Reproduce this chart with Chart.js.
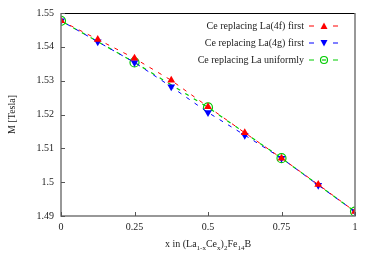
<!DOCTYPE html>
<html>
<head>
<meta charset="utf-8">
<script src="https://cdn.jsdelivr.net/npm/chart.js@4/dist/chart.umd.min.js"></script>
<style>
  html, body { margin: 0; padding: 0; background: #fff; }
  #wrap { width: 375px; height: 263px; }
</style>
</head>
<body>
<div id="wrap"><canvas id="chartM" width="375" height="263"></canvas></div>
<script>
const xFine = [0, 0.125, 0.25, 0.375, 0.5, 0.625, 0.75, 0.875, 1];
const m4f = [1.5477, 1.5422, 1.5366, 1.5301, 1.5223, 1.5146, 1.5071, 1.4993, 1.4913];
const m4g = [1.5477, 1.5415, 1.5354, 1.5282, 1.5206, 1.5139, 1.5071, 1.4991, 1.4913];
const xUni = [0, 0.25, 0.5, 0.75, 1];
const mUni = [1.5477, 1.5354, 1.5221, 1.5071, 1.4913];
const xTicks = [0, 0.25, 0.5, 0.75, 1];
const yTicks = [1.49, 1.5, 1.51, 1.52, 1.53, 1.54, 1.55];
const labels = ['Ce replacing La(4f) first', 'Ce replacing La(4g) first', 'Ce replacing La uniformly'];

const FONT = '"Liberation Serif", "DejaVu Serif", serif';

function pts(xs, ys) {
  return xs.map((x, i) => ({ x: x, y: ys[i] }));
}

const frameAndTicks = {
  id: 'frameAndTicks',
  afterDraw(chart) {
    const c = chart.ctx, a = chart.chartArea;
    const sx = chart.scales.x, sy = chart.scales.y;
    c.save();
    // frame
    c.lineWidth = 1;
    c.strokeStyle = '#000';
    c.beginPath();
    c.moveTo(a.left, a.top + 0.5); c.lineTo(a.right, a.top + 0.5);
    c.stroke();
    c.strokeStyle = '#777';
    c.lineWidth = 1.5;
    c.beginPath();
    c.moveTo(a.left, a.top); c.lineTo(a.left, a.bottom); c.lineTo(a.right, a.bottom); c.lineTo(a.right, a.top);
    c.stroke();
    // inward ticks on bottom and left only
    c.lineWidth = 1;
    c.strokeStyle = '#555';
    c.beginPath();
    xTicks.forEach(v => {
      const px = Math.round(sx.getPixelForValue(v)) + 0.5;
      c.moveTo(px, a.bottom); c.lineTo(px, a.bottom - 4);
    });
    yTicks.forEach(v => {
      const py = Math.round(sy.getPixelForValue(v)) + 0.5;
      c.moveTo(a.left, py); c.lineTo(a.left + 4, py);
    });
    c.stroke();

    // x title with subscripts
    c.fillStyle = '#222';
    const parts = [['x in (La', 0], ['1-x', 1], ['Ce', 0], ['x', 1], [')', 0], ['2', 1], ['Fe', 0], ['14', 1], ['B', 0]];
    let w = 0;
    parts.forEach(p => { c.font = (p[1] ? '7px ' : '10px ') + FONT; w += c.measureText(p[0]).width; });
    let x0 = (a.left + a.right) / 2 - w / 2;
    const yb = 247;
    c.textBaseline = 'alphabetic';
    c.textAlign = 'left';
    parts.forEach(p => {
      c.font = (p[1] ? '7px ' : '10px ') + FONT;
      c.fillText(p[0], x0, p[1] ? yb + 3 : yb);
      x0 += c.measureText(p[0]).width;
    });

    // y title
    c.save();
    c.translate(12, (a.top + a.bottom) / 2);
    c.rotate(-Math.PI / 2);
    c.font = '10px ' + FONT;
    c.textAlign = 'center';
    c.textBaseline = 'middle';
    c.fillText('M [Tesla]', 0, 0);
    c.restore();

    // legend, text on the left, sample on the right
    const rows = [26, 43, 60];
    chart.data.datasets.forEach((ds, i) => {
      const y = rows[i];
      c.font = '10px ' + FONT;
      c.fillStyle = '#222';
      c.textAlign = 'right';
      c.textBaseline = 'middle';
      c.fillText(ds.label, 304, y);
      c.strokeStyle = ds.borderColor;
      c.lineWidth = 1;
      c.beginPath();
      c.moveTo(309, y); c.lineTo(314, y);
      c.moveTo(333, y); c.lineTo(338, y);
      c.stroke();
      const r = 3.5, mx = 324;
      c.fillStyle = ds.borderColor;
      c.beginPath();
      if (ds.pointStyle === 'circle') {
        c.lineWidth = 1.2;
        c.arc(mx, y, r, 0, Math.PI * 2);
        c.stroke();
        c.beginPath(); c.moveTo(mx - 2, y); c.lineTo(mx + 2, y); c.stroke();
      } else if (ds.pointRotation === 180) {
        c.moveTo(mx - r, y - r + 0.5); c.lineTo(mx + r, y - r + 0.5); c.lineTo(mx, y + r);
        c.closePath(); c.fill();
      } else {
        c.moveTo(mx - r, y + r - 0.5); c.lineTo(mx + r, y + r - 0.5); c.lineTo(mx, y - r);
        c.closePath(); c.fill();
      }
    });
    c.restore();
  }
};

new Chart(document.getElementById('chartM'), {
  type: 'line',
  data: {
    datasets: [{
      label: labels[0],
      data: pts(xFine, m4f),
      borderColor: '#ff0000',
      backgroundColor: '#ff0000',
      borderWidth: 1,
      borderDash: [4, 6],
      borderDashOffset: 0,
      pointStyle: 'triangle',
      pointRadius: 4.5,
      pointBorderWidth: 0
    }, {
      label: labels[1],
      data: pts(xFine, m4g),
      borderColor: '#0000ff',
      backgroundColor: '#0000ff',
      borderWidth: 1,
      borderDash: [4, 6],
      borderDashOffset: 3,
      pointStyle: 'triangle',
      pointRotation: 180,
      pointRadius: 4.5,
      pointBorderWidth: 0
    }, {
      label: labels[2],
      data: pts(xUni, mUni),
      borderColor: '#00cc00',
      backgroundColor: 'rgba(0,0,0,0)',
      borderWidth: 1.2,
      borderDash: [4, 6],
      borderDashOffset: 6,
      pointStyle: 'circle',
      pointRadius: 4.5,
      pointBorderWidth: 1.2
    }]
  },
  options: {
    responsive: false,
    animation: false,
    layout: { padding: { top: 13, right: 20, left: 0, bottom: 0 } },
    plugins: { legend: { display: false }, tooltip: { enabled: false } },
    scales: {
      x: {
        type: 'linear', min: 0, max: 1,
        afterBuildTicks: s => { s.ticks = xTicks.map(v => ({ value: v })); },
        afterFit: s => { s.height = 47; },
        grid: { display: false, drawTicks: false },
        border: { display: false },
        ticks: { color: '#222', font: { family: FONT, size: 10 }, padding: 5, maxRotation: 0,
          callback: v => String(v) }
      },
      y: {
        type: 'linear', min: 1.49, max: 1.55,
        afterBuildTicks: s => { s.ticks = yTicks.map(v => ({ value: v })); },
        afterFit: s => { s.width = 61; },
        grid: { display: false, drawTicks: false },
        border: { display: false },
        ticks: { color: '#222', font: { family: FONT, size: 10 }, padding: 7,
          callback: v => String(Math.round(v * 100) / 100) }
      }
    }
  },
  plugins: [frameAndTicks]
});
</script>
</body>
</html>
